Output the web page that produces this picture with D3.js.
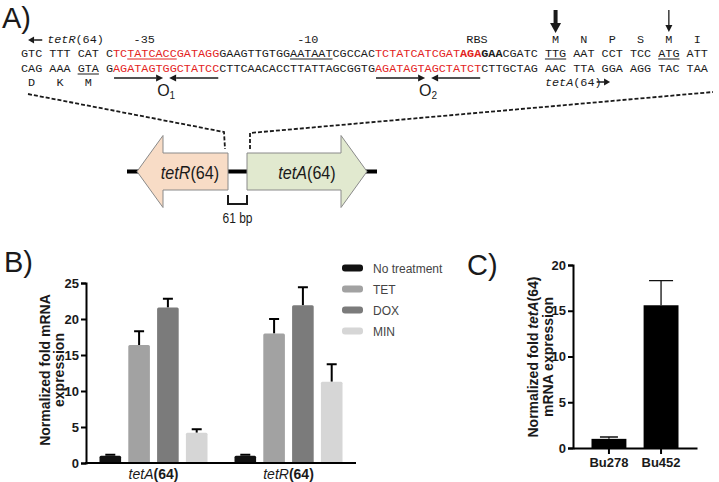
<!DOCTYPE html>
<html>
<head>
<meta charset="utf-8">
<script src="https://cdn.jsdelivr.net/npm/d3@7"></script>
<style>
body { margin: 0; background: #fff; }
svg text { font-family: "Liberation Sans", Arial, sans-serif; }
svg text.mono { font-family: "Liberation Mono", "Courier New", monospace; }
</style>
</head>
<body>
<svg id="fig" width="719" height="482"></svg>
<script>
/*****************  Data **********************/

// A) promoter region, one entry per run of same-styled bases
var topStrand = [
    {seq: "GTC TTT CAT C", kind: "n"},
    {seq: "TC", kind: "op"},
    {seq: "TATCACC", kind: "op", u: true},
    {seq: "GATAGG", kind: "op"},
    {seq: "GAAGTTGTGG", kind: "n"},
    {seq: "AATAAT", kind: "n", u: true},
    {seq: "CGCCAC", kind: "n"},
    {seq: "TCTATCATCGAT", kind: "op"},
    {seq: "AGA", kind: "opb"},
    {seq: "GAA", kind: "b"},
    {seq: "CGATC ", kind: "n"},
    {seq: "TTG", kind: "n", u: true},
    {seq: " AAT CCT TCC ", kind: "n"},
    {seq: "ATG", kind: "n", u: true},
    {seq: " ATT", kind: "n"}
];
var bottomStrand = [
    {seq: "CAG AAA ", kind: "n"},
    {seq: "GTA", kind: "n", u: true},
    {seq: " G", kind: "n"},
    {seq: "AGATAGTGGCTATCC", kind: "op"},
    {seq: "CTTCAACACCTTATTAGCGGTG", kind: "n"},
    {seq: "AGATAGTAGCTATCT", kind: "op"},
    {seq: "CTTGCTAG AAC TTA GGA AGG TAC TAA", kind: "n"}
];
var siteLabels = ["-35", "-10", "RBS"];
var siteAt = [17.4, 40.5, 64.4];
var tetACodons = ["M", "N", "P", "S", "M", "I"];
var tetACodonAt = [74, 78, 82, 86, 90, 94];
var tetRCodons = ["D", "K", "M"];
var tetRCodonAt = [0, 4, 8];
var operators = ["1", "2"];
var operatorFrom = [13, 50];
var operatorTo = [28, 65];

// gene map (diagram units)
var genes = ["tetR", "tetA"];
var geneFrom = [101, 120];
var geneTo = [10, 240];
var geneLabelAt = [63, 180];
var geneFill = ["#f8dcc6", "#e1e9cf"];
var backbone = [0, 250];

// B) qPCR
var targets = ["tetA", "tetR"];
var treatments = ["No treatment", "TET", "DOX", "MIN"];
var treatColors = ["#111111", "#a2a2a2", "#7b7b7b", "#d6d6d6"];
var meanTetA = [1.0, 16.4, 21.6, 4.2];
var errTetA = [0.15, 1.9, 1.2, 0.5];
var meanTetR = [1.0, 18.0, 21.9, 11.3];
var errTetR = [0.15, 2.0, 2.5, 2.4];
var ticksB = [0, 5, 10, 15, 20, 25];

// C) strains
var strains = ["Bu278", "Bu452"];
var meanC = [1.0, 15.6];
var errC = [0.2, 2.7];
var ticksC = [0, 5, 10, 15, 20];

var svg = d3.select("#fig");
var ink = "#1a1a1a";
var red = "#e3231e";

/*****************  Panel letters **********************/

svg.selectAll(".panel")
    .data([["A)", 2, 28], ["B)", 4, 272], ["C)", 467, 275]])
    .enter()
    .append("text")
    .attr("x", function (d) { return d[1]; })
    .attr("y", function (d) { return d[2]; })
    .attr("font-size", "29px")
    .attr("fill", ink)
    .text(function (d) { return d[0]; });

/*****************  A) Sequence **********************/

var nChars = d3.sum(topStrand, function (d) { return d.seq.length; });
var charX = d3.scaleLinear().domain([0, nChars]).range([21, 707.8]);
var monoSize = "11.8px";

function kindColor(k) { return (k == "op" || k == "opb") ? red : ink; }
function kindWeight(k) { return (k == "opb" || k == "b") ? "bold" : "normal"; }

function drawStrand(segs, baseY) {
    var chars = [];
    var under = [];
    var pos = 0;
    segs.forEach(function (s) {
        if (s.u) under.push({from: pos, to: pos + s.seq.length, kind: s.kind});
        s.seq.split("").forEach(function (c) {
            chars.push({c: c, i: pos, kind: s.kind});
            pos++;
        });
    });
    var g = svg.append("g");
    g.selectAll("text")
        .data(chars.filter(function (d) { return d.c != " "; }))
        .enter()
        .append("text")
        .attr("class", "mono")
        .attr("x", function (d) { return charX(d.i + 0.5); })
        .attr("y", baseY)
        .attr("text-anchor", "middle")
        .attr("font-size", monoSize)
        .attr("font-weight", function (d) { return kindWeight(d.kind); })
        .attr("fill", function (d) { return kindColor(d.kind); })
        .text(function (d) { return d.c; });
    g.selectAll("line")
        .data(under)
        .enter()
        .append("line")
        .attr("x1", function (d) { return charX(d.from); })
        .attr("x2", function (d) { return charX(d.to); })
        .attr("y1", baseY + 2)
        .attr("y2", baseY + 2)
        .attr("stroke", function (d) { return kindColor(d.kind); })
        .attr("stroke-width", 1);
}

drawStrand(topStrand, 57);
drawStrand(bottomStrand, 72);

function monoLabel(txt, at, y) {
    svg.append("text")
        .attr("class", "mono")
        .attr("x", charX(at))
        .attr("y", y)
        .attr("text-anchor", "middle")
        .attr("font-size", monoSize)
        .attr("fill", ink)
        .text(txt);
}

siteLabels.forEach(function (t, i) { monoLabel(t, siteAt[i], 43); });
tetACodons.forEach(function (t, i) { monoLabel(t, tetACodonAt[i] + 1.5, 43); });
tetRCodons.forEach(function (t, i) { monoLabel(t, tetRCodonAt[i] + 1.5, 86); });

// small arrow helper (line + filled head)
function arrow(x1, y1, x2, y2, w, head, hw) {
    var ang = Math.atan2(y2 - y1, x2 - x1);
    var bx = x2 - head * Math.cos(ang), by = y2 - head * Math.sin(ang);
    var px = -Math.sin(ang) * hw, py = Math.cos(ang) * hw;
    svg.append("line")
        .attr("x1", x1).attr("y1", y1).attr("x2", bx).attr("y2", by)
        .attr("stroke", ink).attr("stroke-width", w);
    svg.append("path")
        .attr("d", "M" + x2 + "," + y2 + "L" + (bx + px) + "," + (by + py) +
            "L" + (bx - px) + "," + (by - py) + "Z")
        .attr("fill", ink);
}

// tetR(64) direction label
arrow(charX(3.0), 40, charX(1.0), 40, 1.5, 6, 3.5);
var tr = svg.append("text").attr("class", "mono")
    .attr("x", charX(3.7)).attr("y", 43)
    .attr("font-size", monoSize).attr("fill", ink);
tr.append("tspan").attr("font-style", "italic").text("tetR");
tr.append("tspan").text("(64)");

// tetA(64) direction label
var ta = svg.append("text").attr("class", "mono")
    .attr("x", charX(74)).attr("y", 86)
    .attr("font-size", monoSize).attr("fill", ink);
ta.append("tspan").attr("font-style", "italic").text("tetA");
ta.append("tspan").text("(64)");
arrow(charX(81.3), 82, charX(83.2), 82, 1.5, 6, 3.5);

// start codon arrows
arrow(charX(tetACodonAt[0] + 1.5), 10, charX(tetACodonAt[0] + 1.5), 33, 4, 10, 5.5);
arrow(charX(tetACodonAt[4] + 1.5), 10, charX(tetACodonAt[4] + 1.5), 32, 1.3, 7, 3.5);

// operator inverted repeats
operators.forEach(function (o, i) {
    var mid = (operatorFrom[i] + operatorTo[i]) / 2;
    arrow(charX(operatorFrom[i]) + 1, 78, charX(mid) - 3, 78, 1.5, 7, 3.5);
    arrow(charX(operatorTo[i]) - 1, 78, charX(mid) + 3, 78, 1.5, 7, 3.5);
    var ot = svg.append("text")
        .attr("x", charX(mid))
        .attr("y", 96)
        .attr("text-anchor", "middle")
        .attr("font-size", "16px")
        .attr("fill", ink);
    ot.append("tspan").text("O");
    ot.append("tspan").attr("font-size", "10px").attr("dy", 3).text(o);
});

/*****************  A) Gene map **********************/

var mapX = d3.scaleLinear().domain(backbone).range([127, 377]);
var mapY = 171.5;

var dashes = [
    [[28, 94], [224, 132], [225, 149]],
    [[250, 149], [250, 133], [713, 92]]
];
svg.selectAll(".zoomline")
    .data(dashes)
    .enter()
    .append("path")
    .attr("d", d3.line())
    .attr("fill", "none")
    .attr("stroke", ink)
    .attr("stroke-width", 1.8)
    .attr("stroke-dasharray", "4,2");

svg.append("line")
    .attr("x1", mapX(backbone[0])).attr("x2", mapX(backbone[1]))
    .attr("y1", mapY).attr("y2", mapY)
    .attr("stroke", "#000").attr("stroke-width", 4);

var bodyH = 18.5, headH = 36, headL = 26;
genes.forEach(function (g, i) {
    var x0 = mapX(geneFrom[i]), x1 = mapX(geneTo[i]);
    var dir = x1 > x0 ? 1 : -1;
    var hb = x1 - dir * headL;
    var pts = [[x0, mapY - bodyH], [hb, mapY - bodyH], [hb, mapY - headH], [x1, mapY],
        [hb, mapY + headH], [hb, mapY + bodyH], [x0, mapY + bodyH]];
    svg.append("path")
        .attr("d", d3.line()(pts) + "Z")
        .attr("fill", geneFill[i])
        .attr("stroke", "#8a8a8a")
        .attr("stroke-width", 1);
    // narrow-looking label: squeeze horizontally
    var gt = svg.append("text")
        .attr("transform", "translate(" + mapX(geneLabelAt[i]) + "," + (mapY + 7) + ") scale(0.85,1)")
        .attr("text-anchor", "middle")
        .attr("font-size", "19px")
        .attr("fill", ink);
    gt.append("tspan").attr("font-style", "italic").text(g);
    gt.append("tspan").text("(64)");
});

// intergenic bracket
var ig0 = mapX(geneFrom[0]), ig1 = mapX(geneFrom[1]);
svg.append("path")
    .attr("d", "M" + ig0 + ",195V204H" + ig1 + "V195")
    .attr("fill", "none")
    .attr("stroke", ink)
    .attr("stroke-width", 2);
svg.append("text")
    .attr("transform", "translate(" + ((ig0 + ig1) / 2) + ",223) scale(0.8,1)")
    .attr("text-anchor", "middle")
    .attr("font-size", "15px")
    .attr("fill", ink)
    .text("61 bp");

/*****************  B) Bar chart **********************/

var yB = d3.scaleLinear().domain([0, 25]).range([463, 283]);
var xB = d3.scaleBand().domain(targets).range([86, 356]).paddingInner(0.2).paddingOuter(0.1);
var xBi = d3.scaleBand().domain(treatments).range([0, xB.bandwidth()]).paddingInner(0.25);

var gB = svg.append("g");

var barsB = [];
targets.forEach(function (t, ti) {
    var m = ti == 0 ? meanTetA : meanTetR;
    var e = ti == 0 ? errTetA : errTetR;
    treatments.forEach(function (tr, k) {
        barsB.push({target: t, treat: tr, k: k, v: m[k], e: e[k]});
    });
});

// error bars first so the bar covers the stem
gB.selectAll(".errB")
    .data(barsB)
    .enter()
    .append("path")
    .attr("d", function (d) {
        var cx = xB(d.target) + xBi(d.treat) + xBi.bandwidth() / 2;
        return "M" + cx + "," + yB(d.v) + "V" + yB(d.v + d.e) +
            "M" + (cx - 5) + "," + yB(d.v + d.e) + "H" + (cx + 5);
    })
    .attr("stroke", "#000")
    .attr("stroke-width", 2)
    .attr("fill", "none");

gB.selectAll(".barB")
    .data(barsB)
    .enter()
    .append("rect")
    .attr("x", function (d) { return xB(d.target) + xBi(d.treat); })
    .attr("y", function (d) { return yB(d.v); })
    .attr("width", xBi.bandwidth())
    .attr("height", function (d) { return yB(0) - yB(d.v); })
    .attr("rx", 1.5)
    .attr("fill", function (d) { return treatColors[d.k]; });

var axB = gB.append("g")
    .attr("transform", "translate(86,0)")
    .call(d3.axisLeft(yB).tickValues(ticksB).tickSize(5).tickPadding(2));
axB.selectAll("path, line").attr("stroke", "#000").attr("stroke-width", 2);
axB.selectAll("text")
    .attr("font-size", "13px")
    .attr("font-weight", "bold")
    .attr("font-family", "'Liberation Sans', Arial, sans-serif")
    .attr("fill", ink);

gB.append("line")
    .attr("x1", 85).attr("x2", 356)
    .attr("y1", yB(0)).attr("y2", yB(0))
    .attr("stroke", "#000").attr("stroke-width", 2);

targets.forEach(function (t) {
    var lt = gB.append("text")
        .attr("x", xB(t) + xB.bandwidth() / 2)
        .attr("y", 479)
        .attr("text-anchor", "middle")
        .attr("font-size", "14px")
        .attr("fill", ink);
    lt.append("tspan").attr("font-style", "italic").text(t);
    lt.append("tspan").attr("font-weight", "bold").text("(64)");
});

var ylB = gB.append("text")
    .attr("transform", "translate(50,370) rotate(-90)")
    .attr("text-anchor", "middle")
    .attr("font-size", "14px")
    .attr("font-weight", "bold")
    .attr("fill", ink);
ylB.append("tspan").attr("x", 0).attr("dy", 0).text("Normalized fold mRNA");
ylB.append("tspan").attr("x", 0).attr("dy", 14).text("expression");

// legend
var leg = svg.selectAll(".leg")
    .data(treatments)
    .enter()
    .append("g")
    .attr("transform", function (d, i) { return "translate(342," + (268 + i * 21) + ")"; });
leg.append("rect")
    .attr("x", 0).attr("y", -3.5)
    .attr("width", 21).attr("height", 7)
    .attr("rx", 3)
    .attr("fill", function (d, i) { return treatColors[i]; });
leg.append("text")
    .attr("x", 31).attr("y", 4.5)
    .attr("font-size", "12px")
    .attr("fill", "#444")
    .text(function (d) { return d; });

/*****************  C) Bar chart **********************/

var yC = d3.scaleLinear().domain([0, 20]).range([448, 265]);
var xC = d3.scaleBand().domain(strains).range([573, 697]).paddingInner(0.33).paddingOuter(0.355);
var gC = svg.append("g");

gC.selectAll(".errC")
    .data(strains)
    .enter()
    .append("path")
    .attr("d", function (d, i) {
        var cx = xC(d) + xC.bandwidth() / 2;
        var hw = i == 0 ? 9 : 12;
        return "M" + cx + "," + yC(meanC[i]) + "V" + yC(meanC[i] + errC[i]) +
            "M" + (cx - hw) + "," + yC(meanC[i] + errC[i]) + "H" + (cx + hw);
    })
    .attr("stroke", "#111")
    .attr("stroke-width", 1.3)
    .attr("fill", "none");

gC.selectAll(".barC")
    .data(strains)
    .enter()
    .append("rect")
    .attr("x", function (d) { return xC(d); })
    .attr("y", function (d, i) { return yC(meanC[i]); })
    .attr("width", xC.bandwidth())
    .attr("height", function (d, i) { return yC(0) - yC(meanC[i]); })
    .attr("fill", "#000");

var axC = gC.append("g")
    .attr("transform", "translate(573,0)")
    .call(d3.axisLeft(yC).tickValues(ticksC).tickSize(5).tickPadding(2));
axC.selectAll("path, line").attr("stroke", "#000").attr("stroke-width", 2);
axC.selectAll("text")
    .attr("font-size", "13px")
    .attr("font-weight", "bold")
    .attr("font-family", "'Liberation Sans', Arial, sans-serif")
    .attr("fill", ink);

var axCx = gC.append("g")
    .attr("transform", "translate(0," + yC(0) + ")")
    .call(d3.axisBottom(xC).tickSize(6).tickPadding(4).tickSizeOuter(0));
axCx.select(".domain").attr("stroke", "#000").attr("stroke-width", 2);
axCx.selectAll("line").attr("stroke", "#000").attr("stroke-width", 2);
axCx.selectAll("text")
    .attr("font-size", "13px")
    .attr("font-weight", "bold")
    .attr("font-family", "'Liberation Sans', Arial, sans-serif")
    .attr("fill", ink);

var ylC = gC.append("text")
    .attr("transform", "translate(538,357) rotate(-90)")
    .attr("text-anchor", "middle")
    .attr("font-size", "14px")
    .attr("font-weight", "bold")
    .attr("fill", ink);
var l1 = ylC.append("tspan").attr("x", 0).attr("dy", 0);
l1.append("tspan").text("Normalized fold ");
l1.append("tspan").attr("font-style", "italic").text("tetA");
l1.append("tspan").text("(64)");
ylC.append("tspan").attr("x", 0).attr("dy", 15).text("mRNA expression");
</script>
</body>
</html>
